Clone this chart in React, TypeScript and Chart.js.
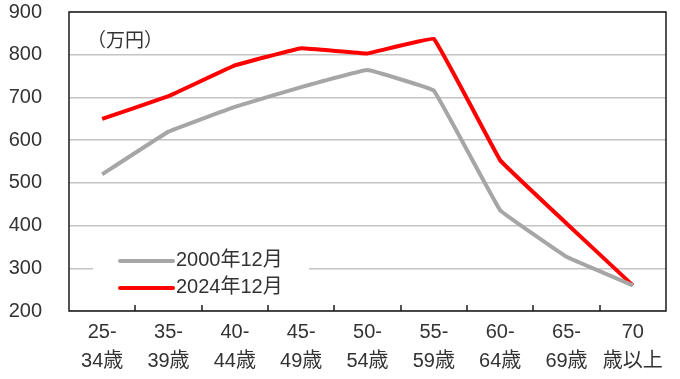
import React, { useEffect, useRef } from 'react';
import { Chart, registerables } from 'chart.js';

Chart.register(...registerables);

const categories: string[][] = [
  ['25-', '34歳'],
  ['35-', '39歳'],
  ['40-', '44歳'],
  ['45-', '49歳'],
  ['50-', '54歳'],
  ['55-', '59歳'],
  ['60-', '64歳'],
  ['65-', '69歳'],
  ['70', '歳以上'],
];
const series2000 = [520, 620, 678, 724, 764, 716, 436, 327, 260];
const series2024 = [650, 703, 775, 815, 803, 837, 553, 405, 260];
const seriesLabels = ['2000年12月', '2024年12月'];
const seriesColors = ['#a6a6a6', '#ff0000'];
const yMin = 200;
const yMax = 900;
const yStep = 100;
const unitLabel = '（万円）';

const FONT = '"Liberation Sans", "Noto Sans CJK JP", sans-serif';
const TEXT = '#333333';

const decor = {
  id: 'decor',
  beforeDatasetsDraw(chart: any) {
    const { ctx, chartArea } = chart;
    const { left, right, top, bottom } = chartArea;
    ctx.save();
    ctx.strokeStyle = '#1a1a1a';
    ctx.lineWidth = 1.5;
    ctx.strokeRect(left, top, right - left, bottom - top);
    const n = chart.data.labels.length;
    const w = (right - left) / n;
    ctx.lineWidth = 1.5;
    for (let i = 1; i < n; i++) {
      const x = Math.round(left + i * w);
      ctx.beginPath();
      ctx.moveTo(x, bottom);
      ctx.lineTo(x, bottom - 6);
      ctx.stroke();
    }
    // unit label
    ctx.fillStyle = TEXT;
    ctx.font = '19px ' + FONT;
    ctx.textBaseline = 'middle';
    ctx.textAlign = 'left';
    ctx.fillText(unitLabel, left + 18, top + 30);
    // legend background
    ctx.fillStyle = '#ffffff';
    ctx.fillRect(left + 24, bottom - 66, 216, 56);
    ctx.restore();
  },
  afterDatasetsDraw(chart: any) {
    const { ctx, chartArea } = chart;
    const { left, bottom } = chartArea;
    ctx.save();
    const ys = [bottom - 50, bottom - 23];
    chart.data.datasets.forEach((ds: any, i: number) => {
      const y = ys[i];
      ctx.strokeStyle = ds.borderColor;
      ctx.lineWidth = 4;
      ctx.lineCap = 'round';
      ctx.beginPath();
      ctx.moveTo(left + 51, y);
      ctx.lineTo(left + 104, y);
      ctx.stroke();
      ctx.fillStyle = TEXT;
      ctx.font = '20px ' + FONT;
      ctx.textBaseline = 'middle';
      ctx.textAlign = 'left';
      ctx.fillText(ds.label, left + 107, y - 1);
    });
    ctx.restore();
  },
};

export default function App() {
  const ref = useRef<HTMLCanvasElement | null>(null);
  useEffect(() => {
    document.body.style.margin = '0';
    if (!ref.current) return;
    const chart = new Chart(ref.current, {
      type: 'line',
      data: {
        labels: categories as any,
        datasets: [
          {
            label: seriesLabels[0],
            data: series2000,
            borderColor: seriesColors[0],
            backgroundColor: seriesColors[0],
            borderWidth: 4,
            pointRadius: 0,
            tension: 0.05,
          },
          {
            label: seriesLabels[1],
            data: series2024,
            borderColor: seriesColors[1],
            backgroundColor: seriesColors[1],
            borderWidth: 4,
            pointRadius: 0,
            tension: 0.05,
          },
        ],
      },
      options: {
        responsive: false,
        animation: false,
        layout: { padding: { top: 12, right: 14, left: 0, bottom: 0 } },
        plugins: {
          legend: { display: false },
          tooltip: { enabled: false },
        },
        scales: {
          x: {
            offset: true,
            grid: { display: false, drawTicks: false },
            border: { display: false },
            ticks: {
              color: TEXT,
              font: { size: 20, family: FONT, lineHeight: 1.45 },
              padding: 7,
              maxRotation: 0,
              autoSkip: false,
            },
            afterFit: (s: any) => {
              s.height = 68;
              s.paddingLeft = 0;
              s.paddingRight = 0;
              s.paddingTop = 0;
              s.paddingBottom = 0;
            },
          },
          y: {
            min: yMin,
            max: yMax,
            grid: { color: '#c4c4c4', lineWidth: 1.5, drawTicks: false },
            border: { display: false },
            ticks: {
              stepSize: yStep,
              color: TEXT,
              font: { size: 20, family: FONT },
              padding: 27,
            },
            afterFit: (s: any) => {
              s.width = 69;
              s.paddingTop = 0;
              s.paddingBottom = 0;
              s.paddingLeft = 0;
              s.paddingRight = 0;
            },
          },
        },
      },
      plugins: [decor],
    });
    return () => chart.destroy();
  }, []);
  return <canvas ref={ref} width={680} height={379} style={{ display: 'block' }} />;
}
